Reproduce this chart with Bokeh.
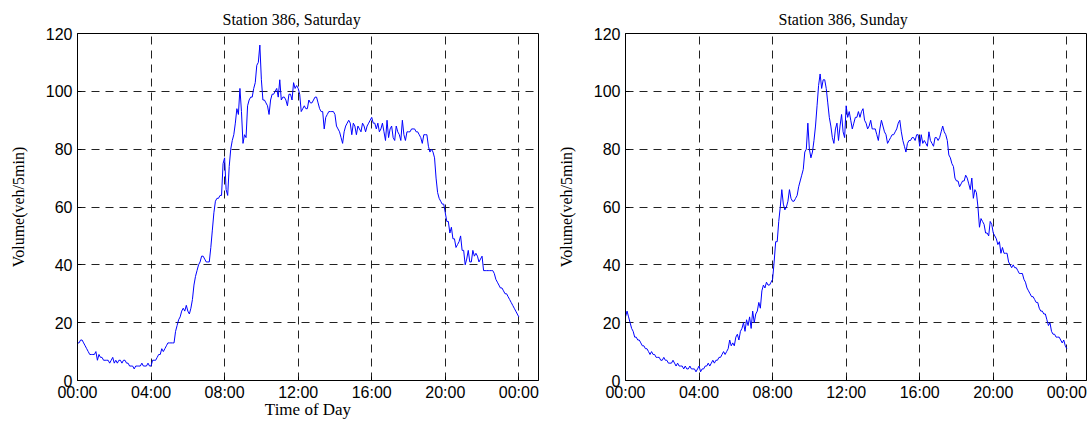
from bokeh.plotting import figure
from bokeh.layouts import row
from bokeh.models import Range1d, FixedTicker, ColumnDataSource
from bokeh.embed import file_html
from bokeh.resources import INLINE

# time of day in minutes, one sample every 5 minutes (00:00 .. 24:00)
minutes = list(range(0, 24 * 60 + 1, 5))

tick_hours = [0, 4, 8, 12, 16, 20, 24]
tick_labels = ["00:00", "04:00", "08:00", "12:00", "16:00", "20:00", "00:00"]
y_ticks = [0, 20, 40, 60, 80, 100, 120]

saturday = [
    13, 13, 14, 14, 13, 12, 11, 10, 9, 9, 9, 9,
    10, 7, 9, 8, 8, 7, 7, 7, 7, 6, 7, 8,
    6, 7, 6, 7, 7, 6, 7, 7, 6, 6, 5, 5,
    5, 4, 5, 5, 5, 5, 6, 5, 5, 5, 6, 5,
    5, 7, 7, 7, 8, 9, 9, 11, 10, 11, 12, 13,
    13, 13, 13, 13, 17, 19, 21, 22, 24, 25, 24, 26,
    24, 23, 25, 28, 33, 36, 38, 40, 41, 43, 43, 42,
    41, 41, 41, 46, 52, 58, 62, 63, 63, 64, 64, 75,
    77, 66, 64, 74, 80, 83, 85, 89, 94, 92, 101, 93,
    82, 85, 84, 95, 97, 98, 98, 101, 103, 109, 110, 116,
    104, 97, 97, 96, 95, 92, 97, 99, 99, 100, 101, 98,
    104, 97, 98, 98, 97, 95, 99, 99, 97, 103, 101, 102,
    101, 99, 93, 94, 95, 94, 94, 97, 96, 96, 97, 98,
    98, 96, 94, 93, 93, 87, 91, 92, 93, 93, 93, 93,
    92, 88, 87, 86, 84, 82, 86, 88, 89, 90, 89, 85,
    89, 88, 85, 88, 87, 86, 89, 88, 86, 88, 89, 90,
    91, 89, 89, 87, 89, 86, 87, 89, 86, 83, 90, 84,
    87, 88, 84, 83, 88, 86, 85, 83, 90, 85, 83, 86,
    86, 86, 87, 87, 87, 86, 86, 85, 84, 82, 85, 85,
    85, 81, 79, 80, 79, 77, 70, 65, 63, 62, 61, 61,
    58, 55, 55, 51, 53, 49, 49, 46, 47, 48, 50, 45,
    45, 40, 42, 45, 41, 41, 45, 43, 44, 43, 41, 42,
    43, 38, 38, 38, 38, 38, 38, 38, 37, 35, 34, 33,
    32, 32, 31, 30, 30, 29, 28, 27, 26, 25, 24, 23,
    22,
]

sunday = [
    22, 24, 22, 20, 18, 17, 15, 15, 14, 14, 13, 12,
    12, 11, 11, 10, 9, 10, 9, 9, 8, 8, 8, 7,
    7, 8, 7, 7, 6, 6, 6, 7, 6, 5, 6, 5,
    5, 5, 4, 5, 4, 4, 5, 4, 4, 4, 3, 4,
    5, 3, 4, 4, 5, 5, 6, 5, 6, 7, 6, 7,
    7, 8, 8, 9, 10, 9, 10, 11, 14, 12, 13, 12,
    15, 16, 14, 17, 18, 20, 17, 21, 19, 22, 18, 24,
    20, 23, 24, 27, 25, 31, 33, 32, 34, 33, 33, 34,
    35, 41, 48, 48, 55, 60, 66, 61, 59, 60, 62, 66,
    63, 62, 62, 63, 64, 67, 69, 71, 73, 79, 80, 89,
    80, 77, 79, 83, 88, 95, 102, 106, 101, 104, 104, 101,
    96, 91, 88, 84, 82, 87, 89, 83, 88, 92, 86, 84,
    95, 91, 93, 90, 87, 89, 91, 91, 93, 91, 93, 94,
    90, 89, 87, 88, 90, 87, 87, 87, 85, 83, 87, 90,
    88, 86, 85, 82, 83, 84, 85, 85, 86, 87, 89, 90,
    86, 83, 81, 79, 82, 83, 83, 84, 84, 83, 85, 85,
    81, 85, 82, 83, 82, 81, 86, 83, 82, 81, 84, 84,
    83, 84, 86, 88, 86, 85, 83, 78, 77, 75, 74, 70,
    69, 69, 67, 68, 69, 69, 71, 70, 68, 66, 70, 63,
    66, 65, 60, 53, 56, 55, 54, 51, 51, 50, 55, 54,
    51, 50, 49, 47, 48, 44, 46, 44, 44, 44, 41, 40,
    39, 40, 39, 39, 38, 37, 37, 37, 35, 34, 32, 31,
    30, 29, 29, 28, 27, 27, 25, 24, 24, 23, 23, 21,
    19, 20, 17, 16, 16, 15, 15, 15, 14, 13, 14, 12,
    11,
]

SERIF = "Liberation Serif"
SANS = "Liberation Sans"


def make_panel(title, values, xlabel, title_offset, width, border_right):
    p = figure(
        width=width, height=423,
        x_range=Range1d(0, 25.07), y_range=Range1d(0, 120),
        output_backend="svg", toolbar_location=None,
        min_border_left=77, min_border_right=border_right,
        min_border_top=33, min_border_bottom=43,
        background_fill_color="white", border_fill_color="white",
    )
    p.title.text = title
    p.title.align = "left"
    p.title.offset = title_offset
    p.title.text_font = SERIF
    p.title.text_font_size = "16px"
    p.title.text_font_style = "normal"
    p.title.text_color = "black"
    p.title.standoff = 12

    src = ColumnDataSource(dict(h=[m / 60 for m in minutes], v=values))
    p.line("h", "v", source=src, line_color="#0000ff", line_width=1)

    p.xaxis.ticker = FixedTicker(ticks=tick_hours)
    p.xaxis.major_label_overrides = {h: lab for h, lab in zip(tick_hours, tick_labels)}
    p.yaxis.ticker = FixedTicker(ticks=y_ticks)
    p.xgrid.ticker = FixedTicker(ticks=tick_hours)
    p.ygrid.ticker = FixedTicker(ticks=y_ticks)

    for ax in (p.xaxis[0], p.yaxis[0]):
        ax.major_tick_in = 4
        ax.major_tick_out = 0
        ax.minor_tick_line_color = None
        ax.axis_line_color = "black"
        ax.major_tick_line_color = "black"
        ax.major_label_text_font = SANS
        ax.major_label_text_font_size = "16px"
        ax.major_label_text_color = "black"
        ax.axis_label_text_font = SERIF
        ax.axis_label_text_font_size = "16px"
        ax.axis_label_text_font_style = "normal"
        ax.axis_label_text_color = "black"

    p.xaxis.major_label_standoff = 3
    p.yaxis.major_label_standoff = 5
    if xlabel:
        p.xaxis.axis_label = xlabel
        p.xaxis.axis_label_standoff = -4
        p.xaxis.axis_label_text_font_size = "17px"
    p.yaxis.axis_label = "Volume(veh/5min)"
    p.yaxis.axis_label_standoff = 16

    for g in (p.xgrid[0], p.ygrid[0]):
        g.grid_line_color = "#222222"
        g.grid_line_dash = "8 6"
        g.grid_line_width = 1

    p.outline_line_color = "black"
    p.outline_line_alpha = 1
    p.outline_line_width = 1
    return p


p1 = make_panel("Station 386, Saturday", saturday, "Time of Day", 145, 548, 10)
p2 = make_panel("Station 386, Sunday", sunday, None, 153, 541, 3)

layout = row(p1, p2)
open("out.html", "w").write(file_html(layout, INLINE))
